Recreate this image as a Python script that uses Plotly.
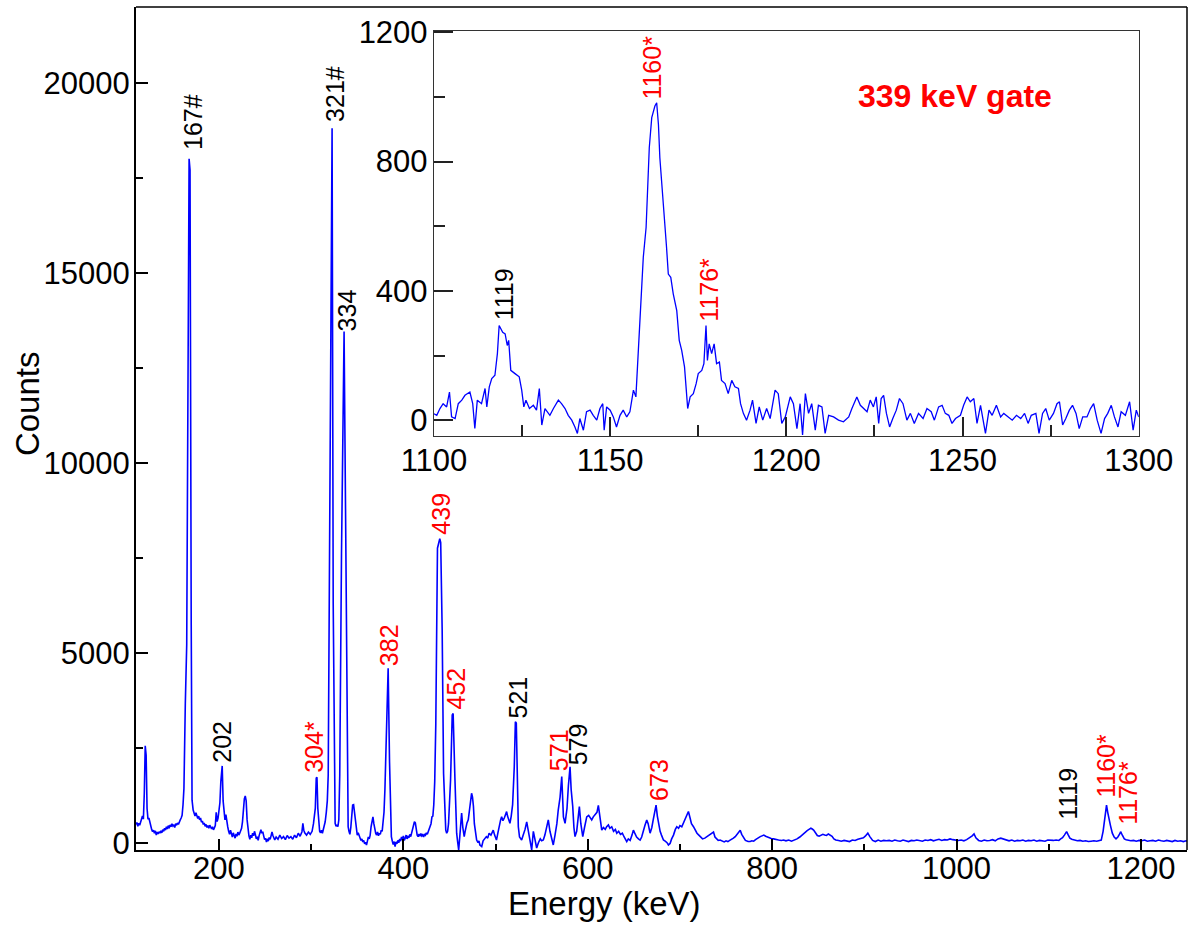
import plotly.graph_objects as go

# ---- gated gamma-ray spectrum (full range) ----
main_energy_kev = [
    110, 111, 112, 113, 114, 115, 116, 117, 118, 119,
    120, 121, 122, 123, 124, 125, 126, 127, 128, 129,
    130, 131, 132, 133, 134, 135, 136, 137, 138, 139,
    140, 141, 142, 143, 144, 145, 146, 147, 148, 149,
    150, 151, 152, 153, 154, 155, 156, 157, 158, 159,
    160, 161, 162, 163.5, 165, 167.6, 168.6, 169.9, 170.8, 172,
    173, 174, 175, 176, 177, 178, 179, 180, 181, 182,
    183, 184, 185, 186, 187, 188, 189, 190, 191, 192,
    193, 194, 195, 196, 197, 198, 199, 200, 201, 202,
    203.5, 204.5, 205.5, 206.5, 207.5, 208.5, 209.5, 210.5, 211.5, 212.5,
    213.5, 214.5, 215.5, 216.5, 217.5, 218.5, 219.5, 220.5, 221.5, 222.5,
    223.5, 224.5, 225.5, 226.5, 227.5, 228.5, 229.5, 230.5, 231.5, 232.5,
    233.5, 234.5, 235.5, 236.5, 237.5, 238.5, 239.5, 240.5, 241.5, 242.5,
    243.5, 244.5, 245.5, 246.5, 247.5, 248.5, 249.5, 250.5, 251.5, 252.5,
    253.5, 254.5, 255.5, 256.5, 257.5, 258.5, 259.5, 260.5, 262, 264,
    266, 268, 270, 272, 274, 276, 278, 280, 282, 284,
    286, 288, 290, 291, 292, 293, 295, 297, 299, 301,
    302.5, 303.5, 304.5, 305.5, 306.3, 307.2, 308.2, 309.2, 310.2, 311.2,
    312.2, 313.2, 314.2, 315.2, 316.4, 317.5, 318.5, 320.2, 321.5, 322.7,
    323.9, 325, 326, 327, 328, 329, 330, 331, 332.9, 335.7,
    337.2, 339, 340.1, 341, 342, 343, 344, 345, 346, 347,
    348, 349, 350, 351, 352, 353, 354, 355, 356, 357,
    358, 359, 360, 361, 362, 363, 364, 365, 366, 367,
    368, 369, 370, 371, 372, 373, 374, 375, 376, 377,
    378, 379, 380, 381, 382, 383.5, 385, 386, 387, 388,
    389, 390, 391, 392, 393, 394, 395, 396, 397, 398,
    399, 400, 401, 402, 403, 404, 405, 406, 407, 408,
    409, 410, 411, 412, 413, 414, 415, 416, 417, 418,
    419, 420, 421, 422, 423, 424, 425, 426, 427, 428,
    429, 430, 431, 432, 433, 434, 435.2, 437, 438.5, 439.5,
    440.5, 442.1, 443.6, 445, 446, 447, 448, 449, 450, 451.2,
    453, 454, 455.9, 457.8, 459, 460, 461, 462, 463.2, 464.5,
    466, 467, 468, 469, 470.4, 471.5, 472.5, 474, 475, 476,
    477, 478, 479.5, 481, 482, 483, 485, 486.5, 488, 490,
    491.5, 493, 495, 497.5, 499, 501, 502.5, 504, 505.5, 506.6,
    508, 509.5, 511, 512, 513, 514, 515.6, 517, 518.5, 520.3,
    521.5, 522.5, 523.2, 524.7, 526, 528.3, 530, 532, 533.8, 535.5,
    537, 539.2, 541, 542.5, 544.6, 546.5, 548.5, 550, 551.8, 553.5,
    555.5, 557.2, 559, 561, 562.6, 564.5, 566.5, 568, 570, 571.8,
    573.6, 575.4, 577.5, 579, 580.8, 582, 583.7, 585, 586.2, 588,
    589.5, 590.9, 592.5, 594.6, 596.5, 598.9, 601, 603, 604.3, 606,
    608, 610, 611.5, 613, 615.2, 617, 619, 620.5, 622.4, 624,
    626, 628, 630, 631.5, 633.5, 635.5, 637.5, 639.5, 641, 642.3,
    644, 646, 648, 649.5, 651, 653, 655, 656.8, 658.5, 660,
    662, 664, 665.5, 667.6, 669.5, 671, 672.5, 674.1, 675.5, 676.6,
    678.5, 680, 682.1, 684, 686, 687.5, 689.3, 691, 693, 695,
    696.6, 698.5, 700, 702, 703.8, 705.5, 707.5, 709.2, 711, 712.5,
    714.7, 716.5, 718.5, 720.5, 722.5, 724.5, 727, 729, 731, 733,
    734.6, 736.4, 738, 740, 741.5, 743.6, 746, 748, 750, 752,
    754, 756, 758, 760, 762, 764, 765.4, 767, 769, 771,
    774, 776.2, 778, 780, 782, 784, 786, 787.1, 789, 791,
    793, 795, 797, 799, 801.5, 804, 807, 810, 812.4, 815,
    818, 821, 824, 827, 830, 833, 836, 838, 840, 842,
    843.5, 845, 847, 849, 851, 853, 855, 857, 859, 861,
    863, 865, 867, 869, 872, 875, 878, 881, 884, 887,
    890, 893, 896, 899, 901, 903.8, 906, 909, 912, 915,
    918, 921, 924, 927, 930, 933, 936, 939, 942, 945,
    948, 951, 954, 957, 960, 963, 966, 969, 972, 975,
    978, 981, 984, 987, 990, 993, 996, 999, 1002, 1005,
    1008, 1011, 1014, 1017, 1019, 1021, 1024, 1027, 1030, 1033,
    1036, 1039, 1042, 1045, 1048, 1051, 1054, 1057, 1060, 1063,
    1066, 1069, 1072, 1075, 1078, 1081, 1084, 1087, 1090, 1093,
    1096, 1099, 1102, 1105, 1108, 1111, 1113, 1115, 1117, 1119.4,
    1121, 1123, 1125, 1128, 1131, 1134, 1137, 1140, 1143, 1146,
    1149, 1152, 1155, 1157, 1159, 1160.5, 1162, 1162.7, 1164, 1165.5,
    1167, 1169, 1171, 1173, 1175, 1177, 1178, 1180, 1182, 1184,
    1186, 1189, 1192, 1195, 1198, 1201, 1204, 1207, 1210, 1213,
    1216, 1219, 1222, 1225, 1228, 1231, 1234, 1237, 1240, 1243,
    1246, 1249, 1250,
]
main_counts = [
    480, 530, 430, 510, 460, 560, 640, 700, 620, 1300,
    2550, 2300, 900, 620, 650, 520, 420, 350, 290, 330,
    250, 310, 200, 280, 230, 290, 250, 310, 260, 340,
    300, 380, 330, 420, 360, 450, 380, 470, 420, 500,
    440, 470, 400, 500, 460, 520, 480, 560, 600, 650,
    720, 1000, 1430, 3670, 5200, 18000, 17700, 5730, 1120, 860,
    780, 700, 790, 720, 640, 700, 600, 650, 540, 570,
    480, 520, 430, 480, 400, 450, 380, 460, 420, 360,
    420, 340, 390, 450, 800, 560, 650, 880, 1050, 1600,
    2020, 1100, 700, 600, 740, 520, 420, 300, 220, 330,
    200, 150, 260, 170, 120, 230, 170, 280, 200, 250,
    300, 380, 550, 900, 1150, 1230, 1100, 600, 300, 180,
    90, 200, 130, 250, 180, 300, 210, 100, 160, 60,
    180, 290, 340, 250, 290, 180, 80, 120, 20, 100,
    40, 140, 90, 180, 280, 190, 120, 70, 150, 90,
    200, 110, 160, 80, 190, 120, 160, 90, 200, 130,
    250, 170, 290, 510, 330, 260, 200, 280, 220, 300,
    500, 720, 910, 1700, 1720, 910, 450, 300, 260, 330,
    250, 330, 420, 550, 800, 1100, 1780, 9280, 12500, 18800,
    6300, 1800, 510, 430, 470, 420, 600, 1780, 7600, 13450,
    8840, 2100, 420, 300, 220, 400, 700, 990, 1000, 800,
    500, 300, 200, 260, 180, 130, 60, 100, 20, 60,
    -30, 10, -60, 40, 150, 100, 200, 420, 560, 680,
    500, 320, 250, 200, 280, 180, 250, 220, 330, 300,
    500, 800, 1400, 2200, 3180, 4590, 2130, 800, 160, 40,
    -50, 30, -100, 20, -30, 60, 0, 100, 40, 150,
    80, 180, 60, 120, 200, 100, 160, 130, 220, 160,
    250, 300, 420, 550, 520, 300, 200, 160, 230, 170,
    240, 180, 210, 150, 230, 200, 260, 220, 300, 360,
    400, 500, 680, 700, 1000, 1600, 3140, 7750, 7900, 8000,
    7900, 5600, 1830, 600, 330, 250, 300, 500, 900, 1650,
    3360, 3400, 1700, 250, 0, -190, 100, 500, 780, 400,
    160, 300, 450, 520, 600, 800, 1100, 1300, 1200, 960,
    500, 250, 70, 0, 50, -60, -100, 50, 100, 160,
    120, 250, 200, 330, 200, 70, 250, 450, 600, 680,
    580, 650, 760, 820, 700, 600, 510, 700, 1000, 2000,
    3180, 3150, 1960, 420, 150, 70, 200, 350, 550, 300,
    100, -190, 300, 100, -140, 0, 100, 50, 70, 200,
    400, 600, 300, 100, -60, 200, 500, 860, 1200, 1740,
    680, 510, 900, 1500, 2000, 1400, 960, 400, 160, 300,
    600, 950, 500, 160, 400, 680, 720, 650, 600, 680,
    750, 800, 980, 650, 330, 400, 350, 420, 470, 380,
    420, 300, 350, 250, 300, 220, 250, 150, 80, 30,
    100, 60, 200, 330, 250, 150, 100, 70, 150, 300,
    450, 600, 500, 250, 400, 600, 800, 990, 700, 500,
    300, 200, 70, 40, 0, -60, -20, 100, 200, 350,
    420, 380, 450, 420, 510, 600, 700, 820, 650, 500,
    420, 330, 250, 200, 150, 100, 120, 150, 180, 220,
    250, 280, 150, 100, 60, 70, 40, 20, 50, 30,
    60, 80, 120, 160, 220, 280, 330, 220, 120, 60,
    30, 30, 50, 40, 80, 120, 150, 160, 180, 200,
    170, 150, 120, 110, 100, 80, 70, 60, 70, 50,
    70, 40, 60, 100, 150, 220, 280, 320, 350, 380,
    360, 330, 260, 190, 170, 200, 220, 200, 190, 230,
    210, 170, 100, 70, 60, 40, 60, 50, 30, 70,
    60, 90, 110, 130, 170, 250, 160, 60, 30, 70,
    40, 60, 50, 60, 40, 70, 50, 40, 70, 50,
    30, 60, 50, 70, 60, 40, 70, 60, 80, 50,
    70, 90, 60, 80, 70, 100, 80, 70, 60, 70,
    50, 80, 120, 180, 230, 130, 60, 40, 70, 50,
    60, 80, 50, 100, 120, 90, 60, 50, 70, 40,
    60, 50, 70, 40, 60, 50, 70, 40, 60, 50,
    40, 70, 60, 60, 70, 60, 100, 130, 200, 290,
    210, 120, 90, 60, 50, 60, 40, 50, 30, 40,
    50, 40, 50, 70, 300, 600, 900, 990, 800, 600,
    450, 250, 150, 100, 150, 230, 290, 190, 100, 80,
    70, 50, 60, 40, 60, 50, 70, 40, 50, 60,
    40, 70, 50, 40, 60, 50, 30, 60, 40, 50,
    30, 50, 40,
]

# ---- expanded view, 1100-1300 keV ----
inset_energy_kev = [
    1100, 1100.8, 1101.7, 1102.6, 1103.6, 1104.4, 1105, 1106, 1106.9, 1107.9,
    1108.8, 1110.2, 1111, 1111.6, 1112.3, 1113.5, 1114.5, 1115, 1115.7, 1116.4,
    1117.3, 1118, 1118.5, 1119.5, 1120.2, 1120.8, 1121.2, 1121.8, 1123, 1124.2,
    1124.9, 1125.5, 1126.1, 1127.1, 1128.2, 1129.1, 1129.9, 1130.6, 1131.5, 1132.9,
    1133.9, 1135.3, 1136.2, 1137.2, 1138.1, 1139.1, 1140, 1140.7, 1141.4, 1142.4,
    1143.3, 1144.3, 1145.2, 1146.2, 1147.1, 1147.9, 1148.3, 1149, 1150, 1150.9,
    1151.8, 1152.8, 1153.7, 1154.7, 1155.6, 1156.6, 1157.3, 1158, 1158.7, 1159.4,
    1160.2, 1160.6, 1161.1, 1161.8, 1162.3, 1162.7, 1163.2, 1163.7, 1164.1, 1164.8,
    1165.4, 1166, 1166.5, 1167.2, 1167.9, 1168.9, 1169.6, 1170.3, 1171.1, 1171.5,
    1172, 1172.7, 1173.6, 1174.4, 1175, 1176, 1176.6, 1177.2, 1177.6, 1178.1,
    1178.8, 1179.5, 1180.2, 1181, 1181.6, 1182.6, 1183.5, 1184.5, 1185.4, 1186.4,
    1187, 1187.8, 1188.7, 1189.7, 1190.4, 1191.4, 1192.3, 1193.3, 1194.4, 1195.4,
    1196.1, 1196.8, 1197.7, 1198.7, 1199.7, 1201.1, 1202, 1203, 1203.9, 1204.6,
    1205.4, 1206.3, 1207.2, 1208.2, 1209.1, 1210.1, 1211, 1212, 1213.4, 1214.8,
    1216.2, 1217.7, 1218.6, 1220, 1221, 1221.9, 1222.9, 1223.8, 1224.7, 1225.5,
    1226.2, 1226.9, 1227.6, 1228.4, 1229.3, 1230.2, 1231.2, 1232.1, 1233.1, 1234.2,
    1235.2, 1236.3, 1237.5, 1238.8, 1239.9, 1241.1, 1242, 1243.2, 1244.2, 1245.1,
    1246.1, 1247, 1248, 1249.4, 1250.3, 1251.3, 1252.2, 1253.2, 1254.1, 1255.1,
    1256.5, 1257.5, 1258.4, 1259.6, 1260.8, 1261.7, 1262.9, 1264.1, 1265.3, 1266.5,
    1267.6, 1268.6, 1269.5, 1270.8, 1271.7, 1272.7, 1273.6, 1274.6, 1275.8, 1276.8,
    1277.5, 1278.4, 1279.3, 1280.3, 1281.2, 1282.2, 1283.1, 1284.1, 1285.3, 1286.3,
    1287.2, 1288.2, 1289.3, 1290.3, 1291.2, 1292.2, 1293.1, 1294.1, 1295, 1296.2,
    1297.4, 1298.4, 1299.3, 1300,
]
inset_counts = [
    20, 15, 36, 51, 41, 87, 10, 5, 51, 62,
    77, 87, 51, -26, 62, 51, 98, 41, 103, 129,
    139, 206, 293, 272, 267, 231, 247, 154, 144, 134,
    93, 41, 62, 36, 46, 31, 98, -15, 36, 15,
    36, 62, 51, 36, 15, 0, -21, -41, 5, -31,
    26, 31, 15, 0, 36, 51, -31, 41, 31, 10,
    -21, 15, 31, 10, 26, 93, 72, 216, 329, 504,
    596, 720, 843, 936, 956, 972, 982, 915, 812, 709,
    648, 535, 452, 442, 391, 339, 247, 216, 165, 113,
    36, 72, 82, 113, 144, 154, 175, 293, 185, 236,
    206, 236, 175, 180, 123, 113, 82, 123, 103, 98,
    51, 21, 0, 31, 62, -10, 41, 0, 36, 5,
    51, 93, 82, -10, 10, 72, 51, -26, 51, -46,
    82, 21, 51, -31, 46, 41, -41, 15, 10, 0,
    -5, 10, 36, 72, 46, 36, 26, 62, 41, 72,
    -10, 67, 77, 21, -21, 5, 31, 67, 51, 0,
    21, -10, 21, 5, 36, 26, 0, 41, 46, 21,
    15, -10, 5, 15, 46, 72, 57, 67, -10, 46,
    -41, 31, 15, 46, 10, 21, 10, 0, 15, 5,
    21, -10, 15, 21, -41, 21, 36, 0, 21, 51,
    57, -15, 5, 31, 46, 21, -26, 10, 10, 36,
    51, 0, -41, 5, 21, 46, 10, -21, 26, 15,
    57, -31, 31, 10,
]
assert len(main_energy_kev) == len(main_counts)
assert len(inset_energy_kev) == len(inset_counts)

# ---- peak labels: text, energy, count at the label foot, colour ----
main_label_text = ["167#", "202", "304*", "321#", "334", "382", "439", "452",
                   "521", "571", "579", "673", "1119", "1160*", "1176*"]
main_label_energy = [172.0, 203.6, 302.8, 325.6, 339.2, 384.3, 440.7, 457.0,
                     523.8, 568.8, 588.9, 677.4, 1120.9, 1162.8, 1186.1]
main_label_counts = [18180, 2060, 1780, 18910, 13410, 4590, 8050, 3450,
                     3230, 1830, 1970, 1050, 550, 1120, 420]
main_label_color = ["black", "black", "red", "black", "black", "red", "red", "red",
                    "black", "red", "black", "red", "black", "red", "red"]

inset_label_text = ["1119", "1160*", "1176*"]
inset_label_energy = [1119.9, 1162.0, 1177.8]
inset_label_counts = [303, 987, 299]
inset_label_color = ["black", "red", "red"]

FONT = "Liberation Sans, Arial, Helvetica, sans-serif"
BLUE = "#0000ff"

fig = go.Figure()
fig.add_trace(go.Scatter(x=main_energy_kev, y=main_counts, mode="lines",
                         line=dict(color=BLUE, width=1.6), xaxis="x", yaxis="y",
                         showlegend=False, hoverinfo="skip"))
fig.add_trace(go.Scatter(x=inset_energy_kev, y=inset_counts, mode="lines",
                         line=dict(color=BLUE, width=1.3), xaxis="x2", yaxis="y2",
                         showlegend=False, hoverinfo="skip"))

annotations = []
for t, e, c, col in zip(main_label_text, main_label_energy, main_label_counts, main_label_color):
    annotations.append(dict(x=e, y=c, xref="x", yref="y", text=t, showarrow=False,
                            textangle=-90, xanchor="center", yanchor="bottom",
                            font=dict(family=FONT, size=25, color=col)))
for t, e, c, col in zip(inset_label_text, inset_label_energy, inset_label_counts, inset_label_color):
    annotations.append(dict(x=e, y=c, xref="x2", yref="y2", text=t, showarrow=False,
                            textangle=-90, xanchor="center", yanchor="bottom",
                            font=dict(family=FONT, size=25, color=col)))

annotations.append(dict(x=0.7795, y=0.8944, xref="paper", yref="paper",
                        text="<b>339 keV gate</b>", showarrow=False,
                        xanchor="center", yanchor="middle",
                        font=dict(family=FONT, size=32, color="red")))
annotations.append(dict(x=0.4462, y=-0.0629, xref="paper", yref="paper",
                        text="Energy (keV)", showarrow=False,
                        xanchor="center", yanchor="middle",
                        font=dict(family=FONT, size=33, color="black")))
annotations.append(dict(x=-0.1037, y=0.529, xref="paper", yref="paper",
                        text="Counts", showarrow=False, textangle=-90,
                        xanchor="center", yanchor="middle",
                        font=dict(family=FONT, size=33, color="black")))

tickfont = dict(family=FONT, size=31, color="black")

fig.update_layout(
    width=1190, height=929,
    margin=dict(l=136, r=3, t=7, b=79, autoexpand=False),
    paper_bgcolor="white", plot_bgcolor="white",
    showlegend=False,
    annotations=annotations,
    xaxis=dict(domain=[0, 1], range=[110, 1250], tick0=0, dtick=200,
               ticks="inside", ticklen=11, tickwidth=2, tickcolor="black",
               minor=dict(ticks="inside", ticklen=6, dtick=100, tick0=0,
                          tickwidth=2, tickcolor="black"),
               showline=True, linewidth=2, linecolor="black", mirror=False,
               showgrid=False, zeroline=False, tickfont=tickfont,
               ticklabelstandoff=-10, automargin=False),
    yaxis=dict(domain=[0, 1], range=[-192, 21992], tick0=0, dtick=5000,
               tickformat="d",
               ticks="inside", ticklen=12, tickwidth=2, tickcolor="black",
               minor=dict(ticks="inside", ticklen=7, dtick=2500, tick0=0,
                          tickwidth=2, tickcolor="black"),
               showline=True, linewidth=2, linecolor="black", mirror=False,
               showgrid=False, zeroline=False, tickfont=tickfont,
               ticklabelstandoff=-2, automargin=False),
    xaxis2=dict(domain=[0.2835, 0.9541], anchor="y2", range=[1100, 1300],
                tick0=1100, dtick=50,
                ticks="inside", ticklen=19, tickwidth=1.5, tickcolor="#222",
                minor=dict(ticks="inside", ticklen=11, dtick=25, tick0=1100,
                           tickwidth=1.5, tickcolor="#222"),
                showline=True, linewidth=1.3, linecolor="#333", mirror=True,
                showgrid=False, zeroline=False, tickfont=tickfont,
                ticklabelstandoff=-3, automargin=False),
    yaxis2=dict(domain=[0.4911, 0.9719], anchor="x2", range=[-49, 1205],
                tick0=0, dtick=400, tickformat="d",
                ticks="inside", ticklen=19, tickwidth=1.5, tickcolor="#222",
                minor=dict(ticks="inside", ticklen=11, dtick=200, tick0=0,
                           tickwidth=1.5, tickcolor="#222"),
                showline=True, linewidth=1.3, linecolor="#333", mirror=True,
                showgrid=False, zeroline=False, tickfont=tickfont,
                ticklabelstandoff=-1, automargin=False),
    shapes=[
        dict(type="line", xref="paper", yref="paper", x0=0, x1=1, y0=1, y1=1,
             line=dict(color="black", width=1.5)),
        dict(type="line", xref="paper", yref="paper", x0=1, x1=1, y0=0, y1=1,
             line=dict(color="black", width=1.5)),
    ],
)

fig.write_html("out.html")
